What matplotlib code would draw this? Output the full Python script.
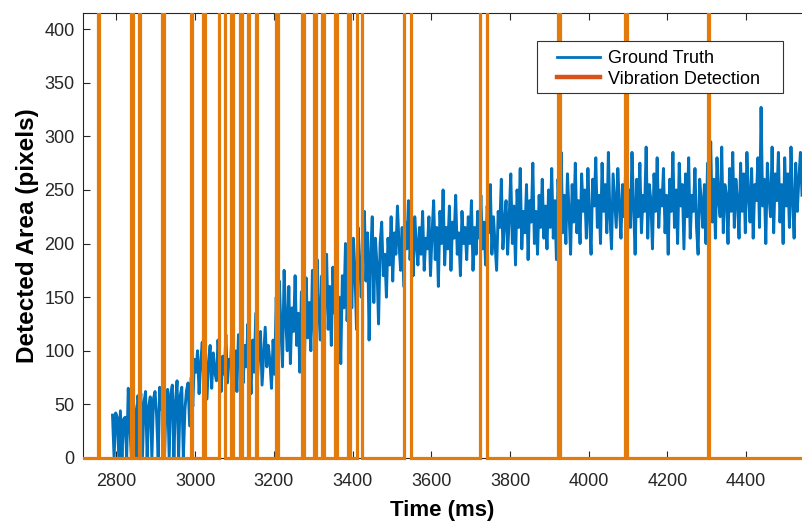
import numpy as np
import matplotlib
matplotlib.use("Agg")
import matplotlib.pyplot as plt
from matplotlib.lines import Line2D
from matplotlib.patches import Rectangle
from matplotlib.transforms import Bbox, TransformedBbox

plt.rcParams["font.family"] = ["Liberation Sans", "DejaVu Sans"]

# ── data ────────────────────────────────────────────────────────────────────
T_START = 2790      # first ground-truth sample (ms)
T_STEP = 4          # sample spacing (ms)

gt_area = [
    # 2790-2890
    40, 0, 42, 38, 0, 44, 0, 36, 38, 0, 65, 30, 0, 55, 45, 0, 58, 50, 60, 0, 52, 62, 0, 48, 57,
    # 2890-2990
    0, 55, 62, 40, 0, 66, 45, 58, 0, 50, 64, 0, 60, 68, 0, 52, 72, 0, 58, 66, 0, 45, 63, 70, 30,
    # 2990-3090
    75, 48, 92, 80, 100, 60, 88, 108, 70, 95, 55, 90, 105, 65, 98, 80, 72, 110, 85, 62, 95, 78, 115, 70, 92,
    # 3090-3190
    88, 120, 75, 100, 62, 115, 90, 130, 70, 105, 85, 125, 95, 60, 110, 80, 135, 72, 100, 118, 68, 95, 122, 85, 105,
    # 3190-3290
    90, 65, 110, 78, 150, 95, 165, 120, 85, 175, 130, 100, 160, 88, 140, 118, 170, 105, 135, 80, 155, 125, 95, 168, 112,
    # 3290-3390
    145, 100, 175, 125, 82, 185, 140, 110, 170, 92, 150, 190, 120, 160, 105, 178, 135, 195, 115, 150, 88, 170, 140, 200, 128,
    # 3390-3490
    160, 195, 140, 205, 175, 120, 215, 185, 150, 200, 230, 165, 210, 110, 190, 225, 145, 205, 180, 125, 200, 220, 170, 190, 150,
    # 3490-3590
    205, 180, 225, 165, 210, 190, 235, 200, 175, 215, 160, 220, 195, 240, 185, 210, 170, 225, 200, 180, 215, 190, 230, 175, 205,
    # 3590-3690
    195, 225, 170, 210, 240, 185, 215, 160, 230, 200, 250, 180, 215, 195, 235, 175, 220, 205, 245, 190, 210, 170, 230, 200, 215,
    # 3690-3790
    185, 225, 200, 240, 175, 215, 190, 230, 205, 245, 195, 220, 180, 235, 210, 255, 190, 225, 200, 175, 230, 215, 260, 195, 220,
    # 3790-3890
    240, 190, 225, 265, 200, 235, 180, 250, 215, 270, 195, 230, 210, 255, 185, 240, 220, 275, 200, 230, 190, 245, 215, 260, 205,
    # 3890-3990
    235, 195, 250, 215, 270, 205, 240, 185, 260, 225, 285, 210, 245, 200, 265, 230, 190, 255, 220, 275, 210, 240, 200, 265, 230,
    # 3990-4090
    250, 205, 270, 225, 190, 260, 235, 280, 215, 245, 200, 275, 230, 255, 210, 285, 225, 195, 265, 240, 215, 270, 235, 205, 255,
    # 4090-4190
    225, 270, 200, 250, 215, 285, 235, 190, 260, 225, 275, 210, 245, 230, 290, 205, 255, 240, 195, 265, 230, 280, 215, 250, 235,
    # 4190-4290
    270, 210, 245, 190, 260, 230, 285, 215, 250, 200, 275, 235, 255, 195, 265, 225, 280, 205, 245, 230, 270, 215, 190, 260, 240,
    # 4290-4390
    215, 255, 200, 275, 235, 295, 220, 260, 205, 280, 240, 225, 290, 210, 255, 245, 200, 270, 230, 285, 215, 260, 240, 205, 275,
    # 4390-4490
    230, 265, 210, 285, 245, 220, 270, 205, 255, 240, 280, 215, 327, 235, 260, 200, 275, 245, 225, 290, 210, 265, 240, 285, 220,
    # 4490-4542
    255, 200, 280, 235, 265, 215, 290, 240, 205, 275, 230, 260, 285, 245,
]

# vibration detection pulses (rise / fall times, ms)
pulse_on = [2752, 2837, 2857, 2916, 2989, 3020, 3061, 3091, 3114, 3134, 3154, 3206,
            3272, 3303, 3323, 3356, 3389, 3412, 3531, 3724, 3923, 4093, 4302]
pulse_off = [2756, 2841, 2861, 2920, 2993, 3024, 3077, 3095, 3118, 3138, 3158, 3210,
             3276, 3307, 3327, 3360, 3393, 3423, 3548, 3741, 3927, 4097, 4306]
PULSE_HIGH = 1000

X_MIN, X_MAX = 2715, 4542
Y_MIN, Y_MAX = 0, 415
x_ticks = [2800, 3000, 3200, 3400, 3600, 3800, 4000, 4200, 4400]
y_ticks = [0, 50, 100, 150, 200, 250, 300, 350, 400]
legend_labels = ["Ground Truth", "Vibration Detection"]

BLUE = "#0072BD"
ORANGE = "#E37A0C"
ORANGE_LEG = "#D95319"
AX_COL = "#262626"

W, H = 802, 525


def fx(px):
    return px / W


def fy(py):
    return 1 - py / H


# ── build series ────────────────────────────────────────────────────────────
gt_t = T_START + T_STEP * np.arange(len(gt_area))

det_t, det_y = [X_MIN], [0]
for on, off in zip(pulse_on, pulse_off):
    det_t += [on, on, off, off]
    det_y += [0, PULSE_HIGH, PULSE_HIGH, 0]
det_t.append(X_MAX)
det_y.append(0)

# ── plot ────────────────────────────────────────────────────────────────────
fig = plt.figure(figsize=(W / 100, H / 100), dpi=100, facecolor="white")
ax = fig.add_axes([fx(83), fy(458), 1 - fx(83), (458 - 13) / H])

ax.plot(gt_t, gt_area, color=BLUE, lw=2.1, zorder=2)
det_line, = ax.plot(det_t, det_y, color=ORANGE, lw=2.3, zorder=3,
                    solid_joinstyle="miter")
# let the zero baseline show its full width over the bottom axis
det_line.set_clip_box(TransformedBbox(Bbox([[0, -0.02], [1, 1]]), ax.transAxes))

ax.set_xlim(X_MIN, X_MAX)
ax.set_ylim(Y_MIN, Y_MAX)
ax.set_xticks(x_ticks)
ax.set_yticks(y_ticks)

ax.tick_params(direction="in", length=5, width=0.8, colors=AX_COL,
               labelsize=13, top=True, right=False)
ax.tick_params(axis="x", pad=11)
ax.tick_params(axis="y", pad=6)
for side in ("left", "top", "bottom"):
    ax.spines[side].set_color(AX_COL)
    ax.spines[side].set_linewidth(0.8)
ax.spines["right"].set_visible(False)

ax.set_xlabel("Time (ms)", fontsize=16, fontweight="bold", labelpad=7)
ax.set_ylabel("Detected Area (pixels)", fontsize=17.5, fontweight="bold", labelpad=4)

# legend: white box drawn by hand, entries placed inside it
box = Rectangle((fx(537), fy(93)), fx(783) - fx(537), fy(41) - fy(93),
                transform=fig.transFigure, facecolor="white",
                edgecolor="#333333", lw=0.8, zorder=10)
fig.patches.append(box)

handles = [Line2D([], [], color=BLUE, lw=2.0),
           Line2D([], [], color=ORANGE_LEG, lw=3.2)]
leg = fig.legend(handles, legend_labels, loc="upper left",
                 bbox_to_anchor=(fx(557), fy(50)), fontsize=13, frameon=False,
                 handlelength=2.4, handletextpad=0.4, borderpad=0,
                 borderaxespad=0, labelspacing=0.2)
leg.set_zorder(11)

fig.savefig("out.png", dpi=100, facecolor="white")
